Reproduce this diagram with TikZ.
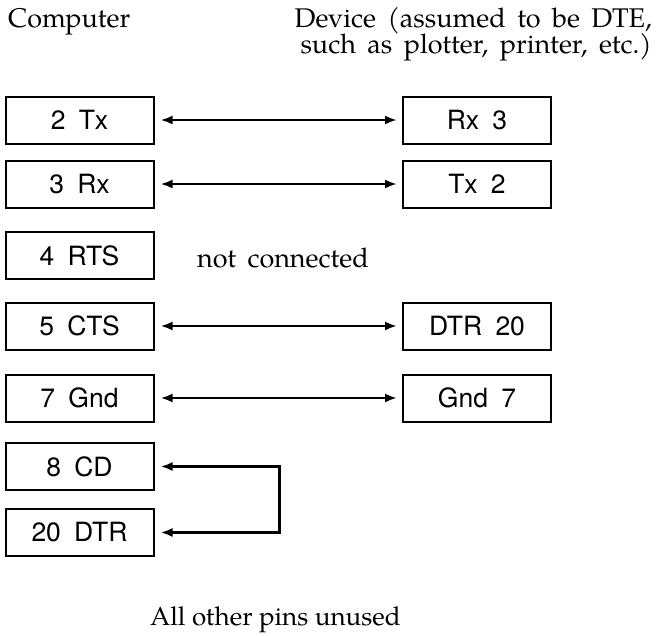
\documentclass[tikz,border=0pt]{standalone}
\usepackage{fontspec}
\setmainfont{TeX Gyre Pagella}
\setsansfont{TeX Gyre Heros}
\usetikzlibrary{arrows.meta}
\newcommand\widespacing{\spaceskip=11.5pt plus 1pt minus 1pt\relax}
\begin{document}
\begin{tikzpicture}[x=1pt,y=-1pt,
  pin/.style={draw, line width=2pt, minimum width=148pt, minimum height=47pt, inner sep=0pt,
    font=\sffamily\fontsize{26.5}{30}\selectfont},
  lbl/.style={inner sep=0pt, font=\rmfamily\fontsize{27}{30}\selectfont\widespacing},
  foot/.style={inner sep=0pt, font=\rmfamily\fontsize{26}{30}\selectfont},
  wire/.style={line width=2.4pt, {Latex[length=12pt,width=9pt]}-{Latex[length=12pt,width=9pt]},
    shorten <=6pt, shorten >=5pt}]
\useasboundingbox (0,0) rectangle (658,635);
\node[lbl, anchor=base west] (hc) at (8,27) {Computer};
\node[lbl, anchor=base east] (hd1) at (652,27) {Device (assumed to be DTE,};
\node[lbl, anchor=base east] (hd2) at (652,53) {such as plotter, printer, etc.)};

\node[pin] (l1) at (79.5,120) {2\hspace{0.5em}Tx};
\node[pin] (l2) at (79.5,184) {3\hspace{0.5em}Rx};
\node[pin] (l3) at (79.5,255.5) {4\hspace{0.5em}RTS};
\node[pin] (l4) at (79.5,326) {5\hspace{0.5em}CTS};
\node[pin] (l5) at (79.5,398) {7\hspace{0.5em}Gnd};
\node[pin] (l6) at (79.5,466.5) {8\hspace{0.5em}CD};
\node[pin] (l7) at (79.5,532.5) {20\hspace{0.5em}DTR};

\node[pin] (r1) at (477,120) {Rx\hspace{0.5em}3};
\node[pin] (r2) at (477,184) {Tx\hspace{0.5em}2};
\node[pin] (r4) at (477,326) {DTR\hspace{0.5em}20};
\node[pin] (r5) at (477,398) {Gnd\hspace{0.5em}7};

\node[lbl, anchor=base west] (nc) at (197,267) {not connected};
\node[foot, anchor=base west] (ft) at (150,625) {All other pins unused};

\draw[wire] (l1.east) -- (r1.west);
\draw[wire] (l2.east) -- (r2.west);
\draw[wire] (l4.east) -- (r4.west);
\draw[wire] (l5.east) -- (r5.west);
\draw[wire, shorten <=6pt, shorten >=6pt] (l6.east) -- ++(125,0) |- (l7.east);
\end{tikzpicture}
\end{document}
